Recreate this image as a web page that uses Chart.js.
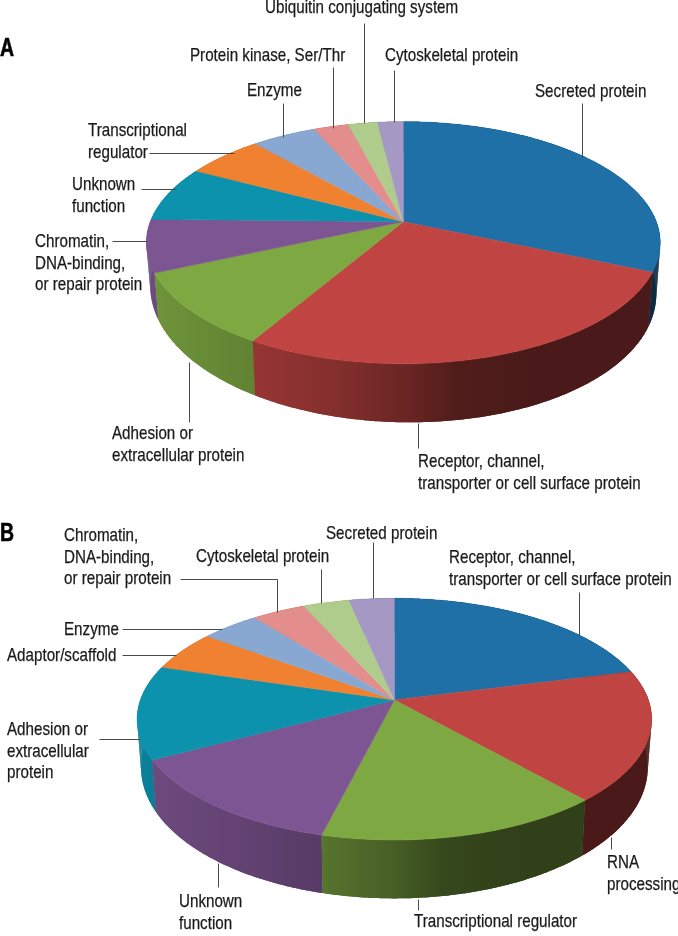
<!DOCTYPE html>
<html>
<head>
<meta charset="utf-8">
<title>Protein classes</title>
<script src="https://cdn.jsdelivr.net/npm/chart.js@4"></script>
<style>
    body { margin: 0; background: #fff; }
    #wrap { position: relative; width: 678px; height: 936px; overflow: hidden; }
    canvas { position: absolute; left: 0; }
    #chartA { top: 0; }
    #chartB { top: 500px; }
</style>
</head>
<body>
<div id="wrap">
    <canvas id="chartA" width="678" height="500"></canvas>
    <canvas id="chartB" width="678" height="436"></canvas>
</div>
<script>
// values are percent of each pie
const categoriesA = ['Secreted protein', 'Receptor, channel,\ntransporter or cell surface protein', 'Adhesion or\nextracellular protein', 'Chromatin,\nDNA-binding,\nor repair protein', 'Unknown\nfunction', 'Transcriptional\nregulator', 'Enzyme', 'Protein kinase, Ser/Thr', 'Ubiquitin conjugating system', 'Cytoskeletal protein'];
const valuesA = [31.6, 26.9, 9.9, 7.0, 7.4, 5.8, 4.8, 2.6, 2.2, 1.9];

const categoriesB = ['Receptor, channel,\ntransporter or cell surface protein', 'RNA\nprocessing', 'Transcriptional regulator', 'Unknown\nfunction', 'Adhesion or\nextracellular\nprotein', 'Adaptor/scaffold', 'Enzyme', 'Chromatin,\nDNA-binding,\nor repair protein', 'Cytoskeletal protein', 'Secreted protein'];
const valuesB = [21.0, 17.5, 15.4, 13.3, 12.5, 5.4, 4.3, 3.9, 3.4, 3.3];

const sliceColors = ['#2070a8', '#c04441', '#7ea842', '#7d5592', '#0c92ad', '#ef8130', '#88a8d2', '#e38e8d', '#afcc8c', '#a698c4'];

// side wall shading, left to right across the pie
const shadeStops = [[-1, 0.88], [-0.6, 0.78], [-0.3, 0.7], [0, 0.56], [0.2, 0.42], [0.5, 0.38], [1, 0.38]];

// where the labels go on the page: [x, first baseline] per category, then the leader lines
const viewA = {
    top: 0, letter: 'A', letterAt: [0, 56],
    cx: 403.3, cy: 221.7, sx: 253, sy: 117.4, k: 0.1736, shrink: 0.985, depth: [44.5, 14, 4],
    labelAt: [[535, 97], [418, 467], [112, 439], [35, 247], [72, 190], [88, 136], [247, 96], [190, 61], [265, 13], [385, 61]],
    leaders: [
        [[582, 103], [582, 157]], [[418, 423], [418, 448]], [[189, 362], [189, 422]],
        [[112, 241], [147, 241]], [[141, 189], [176, 189]], [[149, 153], [234, 153]],
        [[283, 103], [283, 137]], [[333, 67], [333, 128]], [[364, 23], [364, 123]], [[394, 70], [394, 122]]
    ]
};
const viewB = {
    top: 500, letter: 'B', letterAt: [0, 541],
    cx: 394.4, cy: 700, sx: 254, sy: 117.8, k: 0.1585, shrink: 0.985, depth: [46, 12.4, 0],
    labelAt: [[449, 563], [607, 868], [414, 927], [179, 907], [7, 735], [7, 661], [64, 635], [64, 541], [196, 562], [326, 539]],
    leaders: [
        [[579, 592], [579, 635]], [[611, 837], [611, 849]], [[418, 899], [418, 910]],
        [[218, 863], [218, 887]], [[99, 739], [140, 739]], [[122, 655], [176, 655]],
        [[122, 629], [222, 629]], [[180, 579], [277, 579], [277, 612]], [[321, 569], [321, 603]], [[373, 542], [373, 598]]
    ]
};

// no condensed face is installed, so the sans is squeezed sideways
const labelFont = '17.7px "Liberation Sans", sans-serif';
const labelSqueeze = 0.858;
const letterFont = 'bold 26px "Liberation Sans", sans-serif';
const letterSqueeze = 0.75;

function project(view, a) {
    const u = Math.cos(a);
    const v = Math.sin(a);
    const w = 1 - view.k * v;
    return { x: view.cx + view.sx * u / w, y: view.cy + view.sy * v / w, u: u, v: v };
}

function projectBase(view, a) {
    const p = project(view, a);
    const d = view.depth[0] + view.depth[1] * p.v + view.depth[2] * p.u;
    return { x: view.cx + (p.x - view.cx) * view.shrink, y: p.y + d };
}

function darken(hex, f) {
    const n = parseInt(hex.slice(1), 16);
    const r = Math.round((n >> 16 & 255) * f);
    const g = Math.round((n >> 8 & 255) * f);
    const b = Math.round((n & 255) * f);
    return `rgb(${r},${g},${b})`;
}

function sliceAngles(arc) {
    const steps = Math.max(2, Math.ceil((arc.endAngle - arc.startAngle) / 0.01));
    const angles = [];
    for (let i = 0; i <= steps; i++) {
        angles.push(arc.startAngle + (arc.endAngle - arc.startAngle) * i / steps);
    }
    return angles;
}

function drawWalls(ctx, view, arcs, colors) {
    const walls = arcs.map((arc, index) => {
        const angles = sliceAngles(arc);
        return { angles: angles, color: colors[index], front: Math.max(...angles.map(a => Math.sin(a))) };
    });
    // back of the pie first, the front walls cover it
    walls.sort((s, t) => s.front - t.front);
    walls.forEach(wall => {
        const grad = ctx.createLinearGradient(view.cx - view.sx, 0, view.cx + view.sx, 0);
        shadeStops.forEach(stop => grad.addColorStop((stop[0] + 1) / 2, darken(wall.color, stop[1])));
        ctx.fillStyle = grad;

        // whole outline first so the seams of the quads below do not show
        ctx.beginPath();
        wall.angles.forEach((a, i) => {
            const p = project(view, a);
            if (i === 0) ctx.moveTo(p.x, p.y);
            else ctx.lineTo(p.x, p.y);
        });
        wall.angles.slice().reverse().forEach(a => {
            const q = projectBase(view, a);
            ctx.lineTo(q.x, q.y);
        });
        ctx.closePath();
        ctx.fill();

        // the outline folds over itself at the left and right edge, the quads fill that in
        for (let i = 0; i < wall.angles.length - 1; i++) {
            const p1 = project(view, wall.angles[i]);
            const p2 = project(view, wall.angles[i + 1]);
            const q1 = projectBase(view, wall.angles[i]);
            const q2 = projectBase(view, wall.angles[i + 1]);
            ctx.beginPath();
            ctx.moveTo(p1.x, p1.y);
            ctx.lineTo(p2.x, p2.y);
            ctx.lineTo(q2.x, q2.y);
            ctx.lineTo(q1.x, q1.y);
            ctx.closePath();
            ctx.fill();
        }
    });
}

function drawTops(ctx, view, arcs, colors) {
    arcs.forEach((arc, index) => {
        ctx.beginPath();
        ctx.moveTo(view.cx, view.cy);
        sliceAngles(arc).forEach(a => {
            const p = project(view, a);
            ctx.lineTo(p.x, p.y);
        });
        ctx.closePath();
        ctx.fillStyle = colors[index];
        ctx.strokeStyle = colors[index];
        ctx.lineWidth = 0.5;
        ctx.fill();
        ctx.stroke();
    });
}

function squeezedText(ctx, text, x, y, squeeze, thicken) {
    ctx.save();
    ctx.translate(x, y);
    ctx.scale(squeeze, 1);
    ctx.fillText(text, 0, 0);
    ctx.lineWidth = thicken;
    ctx.strokeStyle = ctx.fillStyle;
    ctx.strokeText(text, 0, 0);
    ctx.restore();
}

function drawLabels(ctx, view, categories) {
    ctx.strokeStyle = '#4a4a4a';
    ctx.lineWidth = 1;
    view.leaders.forEach(line => {
        ctx.beginPath();
        line.forEach((pt, i) => {
            if (i === 0) ctx.moveTo(pt[0] + 0.5, pt[1] + 0.5);
            else ctx.lineTo(pt[0] + 0.5, pt[1] + 0.5);
        });
        ctx.stroke();
    });

    ctx.fillStyle = '#1a1a1a';
    ctx.textAlign = 'left';
    ctx.textBaseline = 'alphabetic';
    ctx.font = labelFont;
    categories.forEach((name, i) => {
        name.split('\n').forEach((text, n) => {
            squeezedText(ctx, text, view.labelAt[i][0], view.labelAt[i][1] + n * 21.7, labelSqueeze, 0.25);
        });
    });

    ctx.fillStyle = '#000';
    ctx.font = letterFont;
    squeezedText(ctx, view.letter, view.letterAt[0], view.letterAt[1], letterSqueeze, 0.6);
}

// the pie is tilted and has a perspective, canvas arcs cannot do that,
// so the arc elements Chart.js laid out are painted here instead
const tiltedPie = {
    id: 'tiltedPie',
    beforeDatasetsDraw(chart) {
        const view = chart.options.plugins.tiltedPie.view;
        const ctx = chart.ctx;
        const arcs = chart.getDatasetMeta(0).data;
        const colors = chart.data.datasets[0].backgroundColor;
        ctx.save();
        ctx.translate(0, -view.top);
        drawWalls(ctx, view, arcs, colors);
        drawTops(ctx, view, arcs, colors);
        drawLabels(ctx, view, chart.data.labels);
        ctx.restore();
        return false;
    }
};

function makePie(id, categories, values, view) {
    return new Chart(document.getElementById(id).getContext('2d'), {
        type: 'pie',
        data: {
            labels: categories,
            datasets: [{
                data: values,
                backgroundColor: sliceColors,
                borderWidth: 0
            }]
        },
        options: {
            responsive: false,
            animation: false,
            plugins: {
                legend: { display: false },
                tooltip: { enabled: false },
                tiltedPie: { view: view }
            }
        },
        plugins: [tiltedPie]
    });
}

window.onload = function() {
    makePie('chartA', categoriesA, valuesA, viewA);
    makePie('chartB', categoriesB, valuesB, viewB);
};
</script>
</body>
</html>
